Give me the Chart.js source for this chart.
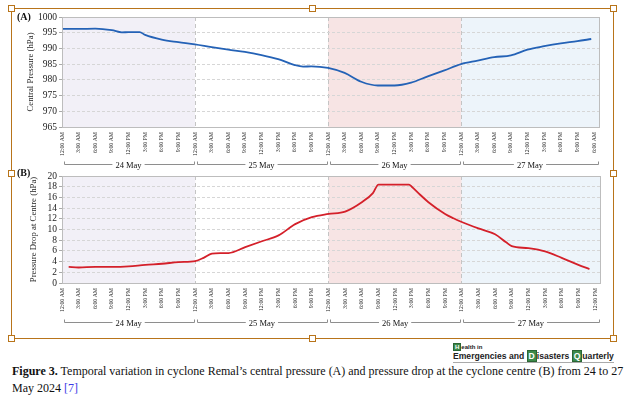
<!DOCTYPE html>
<html>
<head>
<meta charset="utf-8">
<script src="https://cdn.jsdelivr.net/npm/chart.js@4.4.1/dist/chart.umd.min.js"></script>
<style>
body{margin:0;background:#fff;width:639px;height:410px;position:relative;overflow:hidden;font-family:'Liberation Serif',serif}
canvas{position:absolute;left:0}
#cA{top:0}
#cB{top:160px}
#frame{position:absolute;left:11px;top:8px;width:603px;height:331px;border:1px solid #b8741a;box-sizing:border-box;z-index:2}
.hd{position:absolute;width:7px;height:7px;border:1px solid #b8741a;background:#fff;box-sizing:border-box;z-index:3}
#cap{position:absolute;left:12px;top:363px;font-size:12px;line-height:17px;color:#111;white-space:nowrap}
#cap .ref{color:#3a3ae6}
#logo{position:absolute;left:453px;top:344px;font-family:'Liberation Sans',sans-serif;font-weight:bold;color:#222}
#logo .l1{font-size:6px;line-height:7px}
#logo .l2{font-size:8.6px;line-height:11px;border-bottom:1px solid #aaa;width:161px;white-space:nowrap}
#logo .bx{background:#3d8a4a;color:#fff;padding:0 1px;border:1px solid #2a6634}
</style>
</head>
<body>
<canvas id="cA" width="639" height="172"></canvas>
<canvas id="cB" width="639" height="178"></canvas>
<div id="frame"></div>
<div class="hd" style="left:8px;top:5px"></div>
<div class="hd" style="left:309px;top:5px"></div>
<div class="hd" style="left:610px;top:5px"></div>
<div class="hd" style="left:8px;top:170px"></div>
<div class="hd" style="left:610px;top:170px"></div>
<div class="hd" style="left:8px;top:335px"></div>
<div class="hd" style="left:309px;top:335px"></div>
<div class="hd" style="left:610px;top:335px"></div>
<div id="logo"><div class="l1"><span class="bx">H</span>ealth in</div><div class="l2">Emergencies and <span class="bx">D</span>isasters <span class="bx">Q</span>uarterly</div></div>
<div id="cap"><b>Figure 3.</b> Temporal variation in cyclone Remal’s central pressure (A) and pressure drop at the cyclone centre (B) from 24 to 27<br>May 2024 <span class="ref">[7]</span></div>

<script>
// data, hours counted from 24 May 12:00 AM
var dayNames = ['24 May', '25 May', '26 May', '27 May'];
var timeLabels = ['12:00 AM', '3:00 AM', '6:00 AM', '9:00 AM', '12:00 PM', '3:00 PM', '6:00 PM', '9:00 PM'];
var lastLabelA = '6:00 AM';
var lastLabelB = '12:00 PM';

var hoursA = [0, 3, 6, 9, 10.8, 12, 14, 15, 18, 21, 24, 27, 30, 33, 36, 39, 42, 43.5, 45, 48,
    51, 54, 57, 60, 63, 66, 69, 72, 75, 78, 81, 84, 87, 90, 93, 95.5];
var pressureA = [996.2, 996.2, 996.3, 995.8, 995.1, 995.2, 995.2, 994.3, 992.8, 992.0, 991.3, 990.4, 989.6, 988.9, 987.9, 986.6, 984.7, 984.2, 984.3, 983.8,
    982.2, 979.4, 978.2, 978.2, 979.1, 981.1, 983.0, 985.0, 986.1, 987.2, 987.8, 989.6, 990.7, 991.6, 992.3, 993.0];

var hoursB = [1.2, 3, 6, 9, 12, 15, 18, 21, 24, 25.5, 27, 28.5, 30, 33, 36, 39, 42, 45, 48,
    51, 54, 56, 57, 60, 62.5, 63, 64.5, 66, 69, 70.5, 72, 75, 78, 80, 81, 84, 87, 90, 93, 95];
var dropB = [3.0, 2.9, 3.0, 3.0, 3.1, 3.4, 3.6, 3.9, 4.1, 4.7, 5.5, 5.6, 5.6, 6.7, 7.8, 8.9, 11.0, 12.3, 12.9,
    13.35, 15.1, 16.8, 18.4, 18.4, 18.4, 18.0, 16.5, 15.1, 12.9, 12.1, 11.4, 10.2, 9.1, 7.6, 6.9, 6.5, 5.9, 4.7, 3.4, 2.6];

var dayShade = ['#f2f0f7', 'rgba(255,255,255,0)', '#f7e4e4', '#edf4fa'];

// shading, plot frame, panel letter and day brackets
var panelPlugin = {
    id: 'panel',
    beforeDraw: function (chart) {
        var ctx = chart.ctx, a = chart.chartArea, x = chart.scales.x;
        for (var i = 0; i < 4; i++) {
            var x0 = x.getPixelForValue(i * 24);
            var x1 = i == 3 ? a.right : x.getPixelForValue((i + 1) * 24);
            ctx.fillStyle = dayShade[i];
            ctx.fillRect(x0, a.top, x1 - x0, a.bottom - a.top);
        }
    },
    afterDraw: function (chart) {
        var o = chart.options.plugins.panel;
        var ctx = chart.ctx, a = chart.chartArea, x = chart.scales.x;
        ctx.save();
        ctx.strokeStyle = '#bdbdbd';
        ctx.lineWidth = 1;
        ctx.strokeRect(Math.round(a.left) + 0.5, Math.round(a.top) + 0.5, Math.round(a.right - a.left), Math.round(a.bottom - a.top));

        ctx.fillStyle = '#111';
        ctx.font = 'bold 10px "Liberation Serif"';
        ctx.textBaseline = 'middle';
        ctx.textAlign = 'left';
        ctx.fillText(o.letter, 17, o.letterY);

        ctx.font = '8.5px "Liberation Serif"';
        ctx.textAlign = 'center';
        ctx.strokeStyle = '#8e8e8e';
        var y = o.bracketY + 0.5;
        for (var i = 0; i < 4; i++) {
            var x0 = x.getPixelForValue(i * 24);
            var x1 = i == 3 ? a.right : x.getPixelForValue((i + 1) * 24);
            var mid = (x0 + x1) / 2;
            var w = ctx.measureText(dayNames[i]).width / 2 + 3;
            var l = Math.round(x0 + 1.5) + 0.5, r = Math.round(x1 - 1.5) + 0.5;
            ctx.beginPath();
            ctx.moveTo(l, y - 3);
            ctx.lineTo(l, y);
            ctx.lineTo(mid - w, y);
            ctx.moveTo(mid + w, y);
            ctx.lineTo(r, y);
            ctx.lineTo(r, y - 3);
            ctx.stroke();
            ctx.fillText(dayNames[i], mid, y + 1.5);
        }
        ctx.restore();
    }
};

function makeChart(id, hours, values, color, lastLabel, yMin, yMax, yStep, yTitle, titlePad, pad, xHeight, letter, letterY, bracketY) {
    var pts = hours.map(function (h, i) { return { x: h, y: values[i] }; });
    return new Chart(document.getElementById(id), {
        type: 'line',
        data: {
            datasets: [{
                data: pts,
                borderColor: color,
                borderWidth: 1.8,
                pointRadius: 0,
                tension: 0.4,
                cubicInterpolationMode: 'monotone'
            }]
        },
        options: {
            responsive: false,
            animation: false,
            events: [],
            layout: { padding: pad },
            plugins: {
                legend: { display: false },
                tooltip: { enabled: false },
                panel: { letter: letter, letterY: letterY, bracketY: bracketY }
            },
            scales: {
                x: {
                    type: 'linear',
                    min: 0,
                    max: 96.9,
                    afterBuildTicks: function (s) {
                        var t = [];
                        for (var i = 0; i <= 32; i++) t.push({ value: i * 3 });
                        s.ticks = t;
                    },
                    afterFit: function (s) {
                        s.height = xHeight;
                        s.paddingLeft = 0; s.paddingRight = 0;
                    },
                    ticks: {
                        autoSkip: false,
                        minRotation: 90,
                        maxRotation: 90,
                        padding: 5,
                        color: '#222',
                        font: { family: 'Liberation Serif', size: 5.8 },
                        callback: function (v) {
                            var k = Math.round(v / 3);
                            return k == 32 ? lastLabel : timeLabels[k % 8];
                        }
                    },
                    grid: {
                        drawTicks: false,
                        lineWidth: 1,
                        color: function (c) {
                            var v = c.tick ? c.tick.value : 0;
                            return (v % 24 == 0 && v > 0 && v < 96) ? '#c4c4c4' : 'rgba(0,0,0,0)';
                        }
                    },
                    border: { display: false, dash: [4, 3] }
                },
                y: {
                    min: yMin,
                    max: yMax,
                    afterFit: function (s) {
                        s.width = 62;
                        s.paddingTop = 0; s.paddingBottom = 0;
                    },
                    ticks: {
                        stepSize: yStep,
                        autoSkip: false,
                        padding: 2,
                        color: '#222',
                        font: { family: 'Liberation Serif', size: 9.5 },
                        callback: function (v) { return String(v); }
                    },
                    title: {
                        display: true,
                        text: yTitle,
                        color: '#222',
                        padding: { top: titlePad, bottom: 0 },
                        font: { family: 'Liberation Serif', size: 8.8 }
                    },
                    grid: {
                        tickLength: 3,
                        tickColor: '#aaa',
                        color: function (c) {
                            var v = c.tick ? c.tick.value : yMin;
                            return (v > yMin && v < yMax) ? '#d6d6d6' : 'rgba(0,0,0,0)';
                        }
                    },
                    border: { display: false, dash: [3, 2] }
                }
            }
        },
        plugins: [panelPlugin]
    });
}

makeChart('cA', hoursA, pressureA, '#2462b6', lastLabelA, 965, 1000, 5, 'Central Pressure (hPa)', 25,
    { left: 0, right: 40, top: 17, bottom: 0 }, 45, '(A)', 17, 164);
makeChart('cB', hoursB, dropB, '#d4202a', lastLabelB, 0, 20, 2, 'Pressure Drop at Centre (hPa)', 28,
    { left: 0, right: 39, top: 16, bottom: 0 }, 55, '(B)', 13, 162);
</script>
</body>
</html>
